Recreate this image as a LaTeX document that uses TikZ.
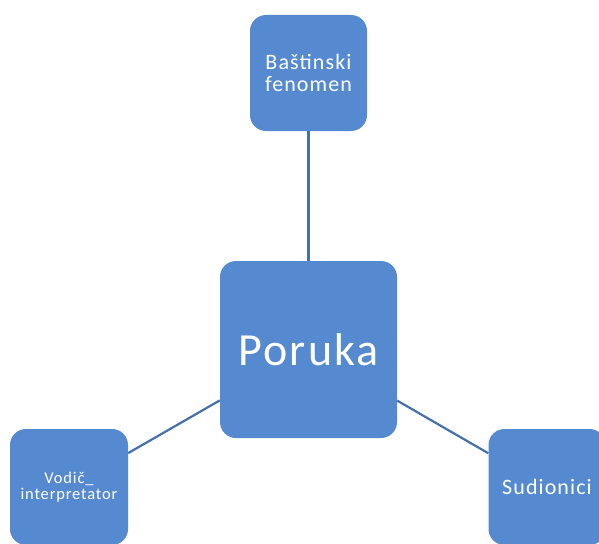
\documentclass[tikz,border=0pt]{standalone}
\usepackage{fontspec}
\setmainfont{Carlito}[LetterSpace=5]
\definecolor{boxfill}{RGB}{85,137,208}
\definecolor{linkcol}{RGB}{70,112,172}
\begin{document}
\begin{tikzpicture}[x=1pt,y=-1pt,
  box/.style={draw=none, fill=boxfill, rounded corners=16pt, text=white, align=center, inner sep=0pt},
  link/.style={draw=linkcol, line width=2.2pt}]
\useasboundingbox (0,0) rectangle (599,543);
\node[box, minimum width=117pt, minimum height=116pt, font=\fontsize{22}{22}\selectfont] (top) at (308.5,73)
  {Baštinski\\fenomen};
\node[box, minimum width=177pt, minimum height=177pt, font=\fontsize{46}{50}\selectfont] (mid) at (308.5,349.5)
  {Poruka};
\node[box, minimum width=118pt, minimum height=116pt, font=\fontsize{16.5}{16.5}\selectfont] (left) at (69,487)
  {Vodič\_\\interpretator};
\node[box, minimum width=117pt, minimum height=116pt, font=\fontsize{22}{22}\selectfont] (right) at (547,487)
  {Sudionici};
\draw[link] (mid) -- (top);
\draw[link] (mid) -- (left);
\draw[link] (mid) -- (right);
\end{tikzpicture}
\end{document}
